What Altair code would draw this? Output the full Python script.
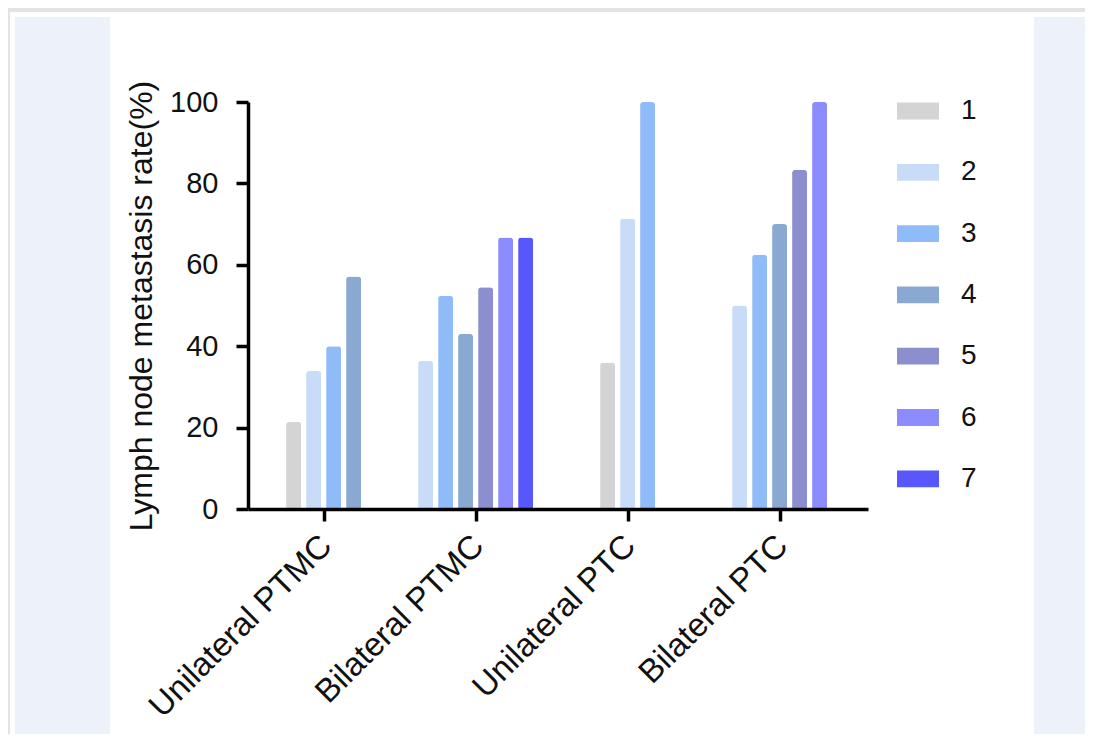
import altair as alt
import pandas as pd

groups = ["Unilateral PTMC", "Bilateral PTMC", "Unilateral PTC", "Bilateral PTC"]
series = ["1", "2", "3", "4", "5", "6", "7"]
s1 = [21.4, None, 36.0, None]
s2 = [33.9, 36.4, 71.4, 50.0]
s3 = [40.0, 52.4, 100.0, 62.5]
s4 = [57.1, 43.0, None, 70.0]
s5 = [None, 54.5, None, 83.3]
s6 = [None, 66.7, None, 100.0]
s7 = [None, 66.7, None, None]
colors = ["#d4d4d4", "#c8dcf8", "#8fbcf8", "#89a9d3", "#8b8fcf", "#8c8cff", "#5757fb"]

GSTEP = 7.6
rows = []
for si, vals in enumerate([s1, s2, s3, s4, s5, s6, s7]):
    for gi, v in enumerate(vals):
        if v is not None:
            rows.append({"group": groups[gi], "gi": gi, "series": series[si], "si": si, "value": v})
df = pd.DataFrame(rows)

FONT = "Liberation Sans"

bars = (
    alt.Chart(df)
    .transform_window(rank="row_number()", groupby=["group"], sort=[alt.SortField("si", order="ascending")])
    .transform_joinaggregate(n="count()", groupby=["group"])
    .transform_calculate(xpos=f"datum.gi*{GSTEP} + datum.rank - (datum.n + 1)/2")
    .mark_bar(size=15, cornerRadiusTopLeft=3, cornerRadiusTopRight=3)
    .encode(
        x=alt.X(
            "xpos:Q",
            scale=alt.Scale(domain=[-3.53, 26.97], nice=False, zero=False),
            axis=alt.Axis(
                values=[i * GSTEP for i in range(len(groups))],
                labelExpr=f"{groups}[round(datum.value/{GSTEP})]",
                title=None,
                grid=False,
                zindex=2,
                labelAngle=-45,
                labelFontSize=33,
                labelFont=FONT,
                labelColor="#111111",
                labelPadding=8,
                labelOffset=-9,
                labelLimit=0,
                labelOverlap=False,
                labelBound=False,
                tickSize=12,
                tickWidth=3.5,
                tickColor="black",
                domainWidth=3.5,
                domainColor="black",
            ),
        ),
        y=alt.Y(
            "value:Q",
            scale=alt.Scale(domain=[0, 100], nice=False),
            axis=alt.Axis(
                values=[0, 20, 40, 60, 80, 100],
                title="Lymph node metastasis rate(%)",
                titleFontSize=32,
                titleFont=FONT,
                titleFontWeight="normal",
                titleColor="#111111",
                titleBaseline="alphabetic",
                titleX=-97,
                grid=False,
                zindex=2,
                labelFontSize=29,
                labelFont=FONT,
                labelColor="#111111",
                labelPadding=18,
                tickSize=12,
                tickWidth=3.5,
                tickColor="black",
                domainWidth=3.5,
                domainColor="black",
            ),
        ),
        color=alt.Color(
            "series:N",
            scale=alt.Scale(domain=series, range=colors),
            legend=alt.Legend(
                title=None,
                orient="none",
                legendX=649,
                legendY=-12,
                padding=0,
                symbolType="M-1,-0.4H1V0.4H-1Z",
                symbolSize=1764,
                symbolStrokeWidth=0,
                symbolOpacity=1,
                labelFontSize=28,
                labelFont=FONT,
                labelColor="#111111",
                labelOffset=22,
                rowPadding=26.3,
            ),
        ),
    )
)

one = pd.DataFrame({"k": [0]})
white = alt.Chart(one).mark_rect(color="white").encode(
    x=alt.value(-238), x2=alt.value(845), y=alt.value(-90), y2=alt.value(640)
)
left_panel = alt.Chart(one).mark_rect(color="#edf2fa").encode(
    x=alt.value(-233), x2=alt.value(-138), y=alt.value(-85), y2=alt.value(640)
)
right_panel = alt.Chart(one).mark_rect(color="#edf2fa").encode(
    x=alt.value(786), x2=alt.value(845), y=alt.value(-85), y2=alt.value(640)
)

chart = (
    alt.layer(white, left_panel, right_panel, bars)
    .properties(
        width=620,
        height=407,
        background="#e3e3e3",
        padding={"left": 240, "top": 94, "right": 217, "bottom": 225},
        autosize=alt.AutoSizeParams(type="none"),
    )
    .configure_view(stroke=None)
)

chart.save("out.html", embed_options={"renderer": "svg", "actions": False})
